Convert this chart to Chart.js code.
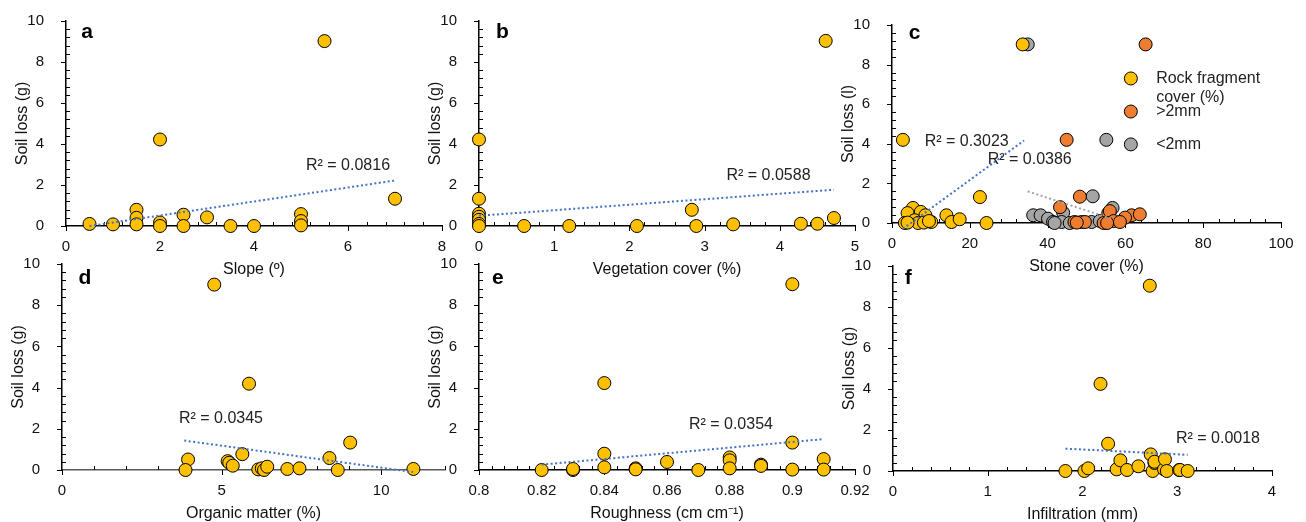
<!DOCTYPE html>
<html lang="en">
<head>
  <meta charset="UTF-8">
  <title>Soil loss</title>
  <style>
    html, body { margin: 0; padding: 0; background: #fff; }
    body { width: 1306px; height: 522px; position: relative; overflow: hidden; }
    canvas { position: absolute; }
  </style>
</head>
<body>
  <canvas id="pa"></canvas>
  <canvas id="pb"></canvas>
  <canvas id="pc"></canvas>
  <canvas id="pd"></canvas>
  <canvas id="pe"></canvas>
  <canvas id="pf"></canvas>

  <script src="https://cdn.jsdelivr.net/npm/chart.js"></script>
  <script>
    // a: slope
    const slopeX = [0.5, 1.0, 1.5, 1.5, 1.5, 2, 2, 2, 2.5, 2.5, 3, 3.5, 4, 5, 5, 5, 5.5, 7];
    const slopeY = [0.1, 0.08, 0.79, 0.4, 0.08, 4.22, 0.17, 0.0, 0.55, 0.0, 0.42, 0.0, 0.0, 0.58, 0.24, 0.03, 9.02, 1.33];
    const slopeTrendX = [0.5, 7];
    const slopeTrendY = [0.0, 2.22];

    // b: vegetation cover
    const vegX = [0, 0, 0, 0, 0, 0, 0, 0.6, 1.2, 2.1, 2.83, 2.89, 3.38, 4.28, 4.5, 4.61, 4.72];
    const vegY = [4.22, 1.33, 0.6, 0.45, 0.3, 0.1, 0.0, 0.0, 0.0, 0.0, 0.79, 0.0, 0.08, 0.11, 0.11, 9.03, 0.39];
    const vegTrendX = [0, 4.72];
    const vegTrendY = [0.5, 1.77];

    // c: stone cover
    const rockX = [33.6, 2.8, 22.6, 24.3, 14.0, 15.3, 17.4, 5.4, 4.0, 7.4, 8.6, 5.8, 6.7, 8.2, 10.1, 3.3, 4.0, 9.5];
    const rockY = [9.02, 4.2, 1.31, 0.0, 0.39, 0.05, 0.19, 0.76, 0.5, 0.56, 0.39, 0.14, 0.0, 0.02, 0.05, 0.0, 0.02, 0.1];
    const coarseX = [65.2, 44.9, 48.3, 43.2, 55.6, 56.0, 61.6, 63.7, 59.9, 57.0, 58.6, 46.9, 49.6, 54.4, 55.3, 47.5];
    const coarseY = [9.02, 4.2, 1.33, 0.8, 0.5, 0.6, 0.39, 0.44, 0.27, 0.1, 0.05, 0.05, 0.05, 0.0, 0.0, 0.02];
    const fineX = [34.9, 55.1, 51.6, 56.7, 44.0, 36.3, 38.2, 40.1, 41.4, 43.6, 45.7, 48.7, 51.3, 53.4, 55.0, 41.8];
    const fineY = [9.02, 4.2, 1.35, 0.76, 0.52, 0.39, 0.39, 0.22, 0.05, 0.05, 0.0, 0.05, 0.05, 0.1, 0.1, 0.0];
    const rockTrendX = [2.83, 33.96];
    const rockTrendY = [-0.29, 4.17];
    const fineTrendX = [34.9, 57];
    const fineTrendY = [1.6, 0.18];

    // d: organic matter
    const omX = [4.77, 5.86, 9.03, 3.95, 3.87, 5.19, 5.24, 5.35, 5.65, 6.15, 6.26, 6.33, 6.43, 7.06, 7.44, 8.38, 8.64, 11.01];
    const omY = [9.0, 4.19, 1.33, 0.51, 0.0, 0.43, 0.35, 0.21, 0.77, 0.03, 0.08, 0.0, 0.16, 0.05, 0.08, 0.58, 0.0, 0.05];
    const omTrendX = [3.83, 11.0];
    const omTrendY = [1.43, -0.1];

    // e: roughness
    const roughX = [0.82, 0.83, 0.83, 0.84, 0.84, 0.84, 0.85, 0.85, 0.86, 0.87, 0.88, 0.88, 0.88, 0.89, 0.89, 0.9, 0.9, 0.9, 0.91, 0.91];
    const roughY = [0.0, 0.0, 0.05, 4.22, 0.79, 0.13, 0.08, 0.03, 0.39, 0.0, 0.61, 0.47, 0.08, 0.26, 0.2, 9.02, 1.33, 0.02, 0.53, 0.02];
    const roughTrendX = [0.82, 0.91];
    const roughTrendY = [0.26, 1.5];

    // f: infiltration
    const infX = [2.71, 2.19, 2.27, 1.82, 2.02, 2.06, 2.36, 2.4, 2.47, 2.59, 2.72, 2.74, 2.76, 2.76, 2.86, 2.87, 2.89, 3.02, 3.03, 3.11];
    const infY = [9.04, 4.25, 1.33, 0.0, 0.0, 0.13, 0.08, 0.52, 0.05, 0.23, 0.81, 0.0, 0.39, 0.45, 0.08, 0.57, 0.0, 0.05, 0.05, 0.0];
    const infTrendX = [1.82, 3.11];
    const infTrendY = [1.09, 0.79];

    const YELLOW = '#FFC000', ORANGE = '#ED7D31', GREY = '#A5A5A5', BLUE = '#4472C4';
    const FONT = "'Liberation Sans', Arial, sans-serif";

    Chart.defaults.font.family = FONT;
    Chart.defaults.color = '#111';

    const pts = (xs, ys) => xs.map((x, i) => ({ x, y: ys[i] }));
    const isMajor = (v, step) => Math.abs(v / step - Math.round(v / step)) < 1e-6;
    const fmt = v => String(Math.round(v * 1000) / 1000);

    const scatter = (xs, ys, color, label) => ({
      label, data: pts(xs, ys), backgroundColor: color, borderColor: '#000',
      borderWidth: 1, pointRadius: 6.5, order: 2, clip: false
    });
    const trend = (xs, ys, color) => ({
      data: pts(xs, ys), showLine: true, borderColor: color, borderWidth: 2,
      borderDash: [2, 2.5], pointRadius: 0, order: 1, clip: false
    });

    // y box width, x box height, canvas margin above / right of the plot.
    // PT matches the top padding the y scale asks for (half label + tick padding)
    const YW = 60, XH = 56, PT = 22, PR = 24;

    function panel(id, box, xo, ytitle, datasets, notes) {
      const cv = document.getElementById(id);
      const w = box.r - box.l + YW + PR;
      const h = box.b - box.t + PT + XH;
      cv.width = w; cv.height = h;
      cv.style.left = (box.l - YW) + 'px';
      cv.style.top = (box.t - PT) + 'px';
      cv.style.width = w + 'px';
      cv.style.height = h + 'px';

      const marks = {
        id: 'marks',
        beforeDatasetsDraw(chart) {
          const { ctx, chartArea: a, scales: { x, y } } = chart;
          ctx.save();
          ctx.strokeStyle = '#000';
          ctx.lineWidth = 1;
          ctx.beginPath();
          x.ticks.forEach(t => {
            const p = Math.round(x.getPixelForValue(t.value)) + 0.5;
            ctx.moveTo(p, a.bottom);
            ctx.lineTo(p, isMajor(t.value, xo.major) ? a.bottom + 5 : a.bottom - 4);
          });
          y.ticks.forEach(t => {
            const p = Math.round(y.getPixelForValue(t.value)) + 0.5;
            ctx.moveTo(a.left, p);
            ctx.lineTo(isMajor(t.value, 2) ? a.left - 5 : a.left + 4, p);
          });
          ctx.stroke();
          ctx.restore();
        },
        afterDatasetsDraw(chart) {
          const { ctx, scales: { x, y } } = chart;
          ctx.save();
          ctx.textAlign = 'center';
          ctx.textBaseline = 'middle';
          ctx.fillStyle = '#000';
          ctx.font = 'bold 21px ' + FONT;
          ctx.fillText(notes.letter, x.getPixelForValue(notes.lx), y.getPixelForValue(notes.ly));
          ctx.fillStyle = '#222';
          ctx.font = '16px ' + FONT;
          notes.r2.forEach(n => ctx.fillText(n.text, x.getPixelForValue(n.x), y.getPixelForValue(n.y)));
          (notes.legend || []).forEach(it => {
            const ds = chart.data.datasets[it.ds];
            const mx = x.getPixelForValue(it.mx), my = y.getPixelForValue(it.y);
            ctx.beginPath();
            ctx.arc(mx, my, 6.5, 0, Math.PI * 2);
            ctx.fillStyle = ds.backgroundColor;
            ctx.fill();
            ctx.strokeStyle = '#000';
            ctx.lineWidth = 1;
            ctx.stroke();
            ctx.fillStyle = '#222';
            ctx.textAlign = 'left';
            it.lines.forEach((s, i) => ctx.fillText(s, x.getPixelForValue(it.tx), my + i * 19));
          });
          ctx.restore();
        }
      };

      return new Chart(cv, {
        type: 'scatter',
        data: { datasets },
        options: {
          responsive: false,
          animation: false,
          events: [],
          layout: { padding: { left: 0, top: 0, right: PR, bottom: 0 } },
          plugins: { legend: { display: false }, tooltip: { enabled: false } },
          scales: {
            x: {
              type: 'linear', position: 'bottom', min: xo.min, max: xo.max,
              afterFit: s => { s.height = XH; },
              grid: { display: false },
              border: { color: xo.axis || '#000', width: 1.5 },
              ticks: {
                stepSize: xo.step, autoSkip: false, maxRotation: 0, padding: 4,
                font: { size: 15 }, color: '#111',
                callback: v => isMajor(v, xo.major) ? fmt(v) : ''
              },
              title: { display: true, text: xo.title, font: { size: 16 }, color: '#111', padding: { top: 0, bottom: 2.6 } }
            },
            y: {
              type: 'linear', position: 'left', min: 0, max: 10,
              afterFit: s => { s.width = YW; },
              grid: { display: false },
              border: { color: '#000', width: 1.5 },
              ticks: {
                stepSize: 0.4, autoSkip: false, padding: 14,
                font: { size: 15 }, color: '#111',
                callback: v => isMajor(v, 2) ? fmt(v) : ''
              },
              title: { display: true, text: ytitle, font: { size: 16 }, color: '#111', padding: { top: 6.6, bottom: 0 } }
            }
          }
        },
        plugins: [marks]
      });
    }

    panel('pa', { l: 66, t: 20, r: 442, b: 226 },
      { min: 0, max: 8, step: 0.4, major: 2, title: 'Slope (º)' }, 'Soil loss (g)',
      [scatter(slopeX, slopeY, YELLOW), trend(slopeTrendX, slopeTrendY, BLUE)],
      { letter: 'a', lx: 0.45, ly: 9.47, r2: [{ text: 'R² = 0.0816', x: 6.0, y: 2.95 }] });

    panel('pb', { l: 479, t: 20, r: 855, b: 226 },
      { min: 0, max: 5, step: 0.2, major: 1, title: 'Vegetation cover (%)' }, 'Soil loss (g)',
      [scatter(vegX, vegY, YELLOW), trend(vegTrendX, vegTrendY, BLUE)],
      { letter: 'b', lx: 0.31, ly: 9.47, r2: [{ text: 'R² = 0.0588', x: 3.85, y: 2.46 }] });

    panel('pc', { l: 892, t: 24, r: 1281, b: 223 },
      { min: 0, max: 100, step: 4, major: 20, title: 'Stone cover (%)' }, 'Soil loss (l)',
      [
        scatter(rockX, rockY, YELLOW, 'Rock fragment cover (%)'),
        scatter(coarseX, coarseY, ORANGE, '>2mm'),
        scatter(fineX, fineY, GREY, '<2mm'),
        trend(rockTrendX, rockTrendY, BLUE),
        trend(fineTrendX, fineTrendY, GREY)
      ],
      {
        letter: 'c', lx: 5.8, ly: 9.57,
        r2: [{ text: 'R² = 0.3023', x: 19.2, y: 4.12 }, { text: 'R² = 0.0386', x: 35.4, y: 3.21 }],
        legend: [
          { ds: 0, mx: 61.4, tx: 67.9, y: 7.3, lines: ['Rock fragment', 'cover (%)'] },
          { ds: 1, mx: 61.4, tx: 67.9, y: 5.63, lines: ['>2mm'] },
          { ds: 2, mx: 61.4, tx: 67.9, y: 3.97, lines: ['<2mm'] }
        ]
      });

    panel('pd', { l: 62, t: 263, r: 445, b: 470 },
      { min: 0, max: 12, step: 1, major: 5, title: 'Organic matter (%)', axis: '#595959' }, 'Soil loss (g)',
      [scatter(omX, omY, YELLOW), trend(omTrendX, omTrendY, BLUE)],
      { letter: 'd', lx: 0.72, ly: 9.32, r2: [{ text: 'R² = 0.0345', x: 4.98, y: 2.5 }] });

    panel('pe', { l: 479, t: 263, r: 855, b: 470 },
      { min: 0.8, max: 0.92, step: 0.004, major: 0.02, title: 'Roughness (cm cm⁻¹)' }, 'Soil loss (g)',
      [scatter(roughX, roughY, YELLOW), trend(roughTrendX, roughTrendY, BLUE)],
      { letter: 'e', lx: 0.806, ly: 9.32, r2: [{ text: 'R² = 0.0354', x: 0.8804, y: 2.22 }] });

    panel('pf', { l: 893, t: 265, r: 1272, b: 471 },
      { min: 0, max: 4, step: 0.2, major: 1, title: 'Infiltration (mm)' }, 'Soil loss (g)',
      [scatter(infX, infY, YELLOW), trend(infTrendX, infTrendY, BLUE)],
      { letter: 'f', lx: 0.16, ly: 9.42, r2: [{ text: 'R² = 0.0018', x: 3.43, y: 1.6 }] });
  </script>
</body>
</html>
